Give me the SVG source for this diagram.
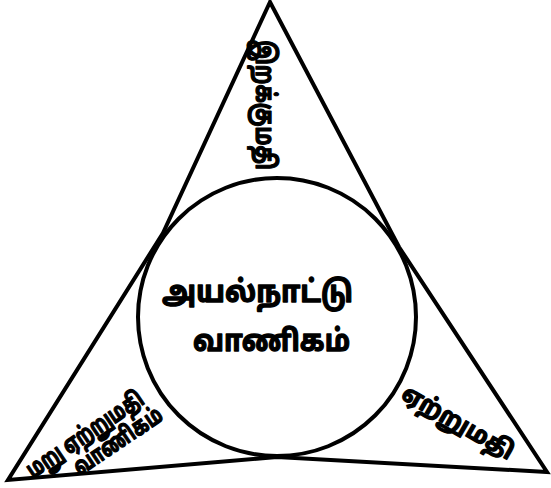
<svg xmlns="http://www.w3.org/2000/svg" width="551" height="488" viewBox="0 0 551 488">
<style>
.ln{fill:none;stroke:#000;stroke-width:4;stroke-linejoin:miter;stroke-linecap:round}
.t{font-family:"Noto Sans Tamil","Lohit Tamil","Latha","Noto Sans",sans-serif;font-weight:bold;fill:#000;stroke:#000;stroke-width:1.3;stroke-linejoin:round}
</style>
<rect width="551" height="488" fill="#fff"/>
<g id="triangle">
<path class="ln" d="M270,2 L163,233 L8,480 L277,457 L547,472 L399,247 Z"/>
</g>
<g id="circle">
<circle class="ln" cx="277" cy="317" r="139" stroke-width="5"/>
<text class="t" x="162" y="302" font-size="30" textLength="191" lengthAdjust="spacingAndGlyphs">அயல்நாட்டு</text>
<text class="t" x="193" y="351" font-size="30" textLength="157" lengthAdjust="spacingAndGlyphs">வாணிகம்</text>
</g>
<g id="import">
<text class="t" font-size="27" transform="translate(256,40) rotate(90)" textLength="130" lengthAdjust="spacingAndGlyphs">இறக்குமதி</text>
</g>
<g id="reexport">
<text class="t" font-size="24" transform="translate(33,479) rotate(-34)" textLength="136" lengthAdjust="spacingAndGlyphs">மறு ஏற்றுமதி</text>
<text class="t" font-size="24" transform="translate(80,476) rotate(-34)" textLength="102" lengthAdjust="spacingAndGlyphs">வாணிகம்</text>
</g>
<g id="export">
<text class="t" font-size="24" transform="translate(400,398) rotate(30)" textLength="125" lengthAdjust="spacingAndGlyphs">ஏற்றுமதி</text>
</g>
</svg>
